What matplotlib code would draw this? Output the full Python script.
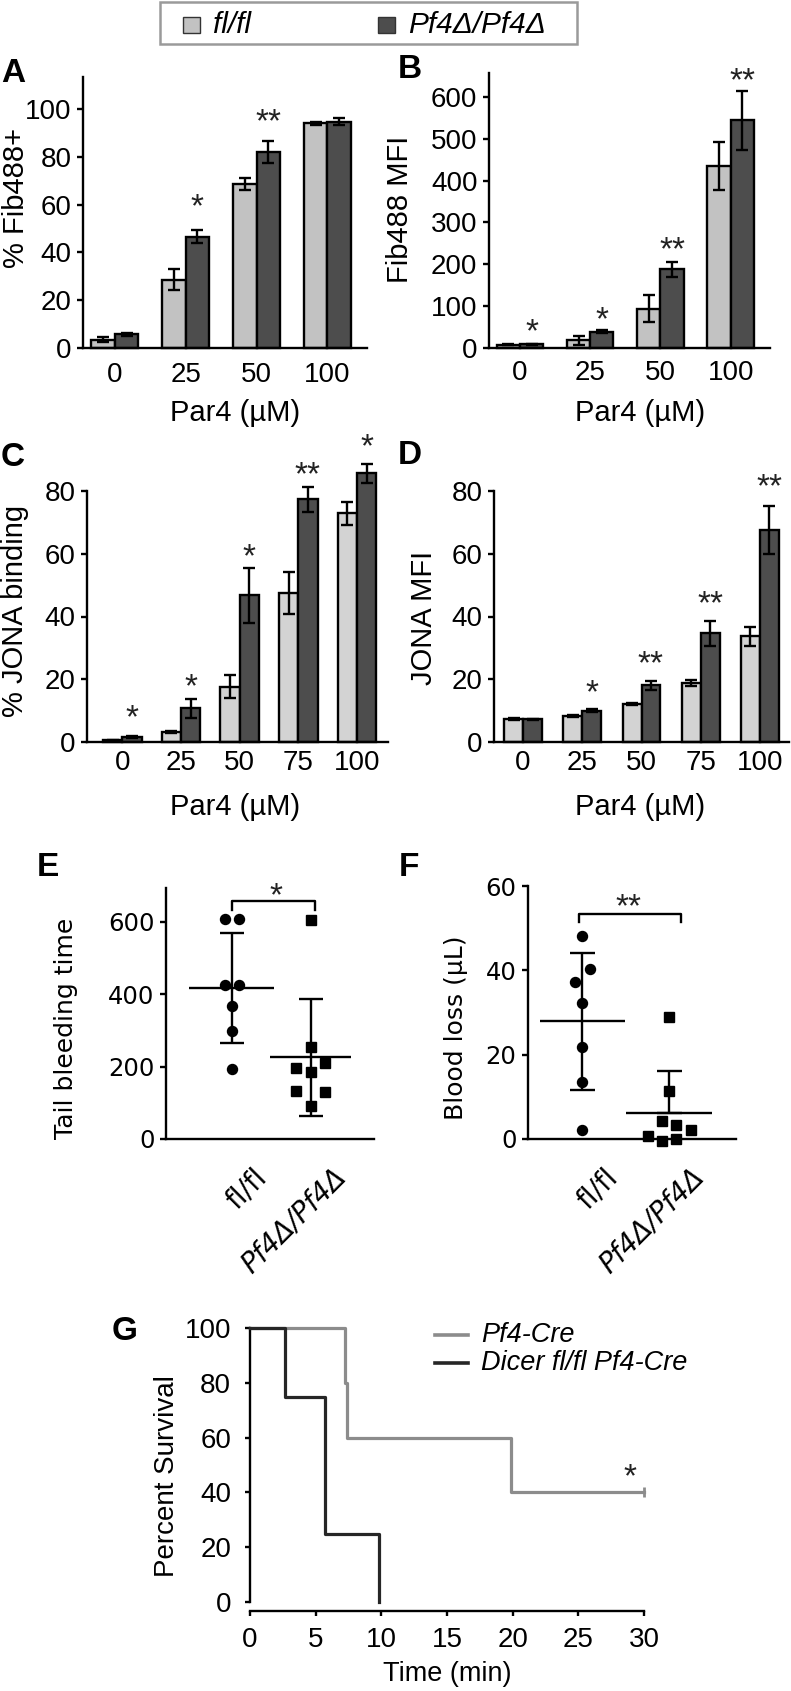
import numpy as np
import matplotlib
matplotlib.use('Agg')
import matplotlib.pyplot as plt
from matplotlib.transforms import ScaledTranslation
from matplotlib.lines import Line2D
from matplotlib.patches import Rectangle

plt.rcParams['font.family'] = ['Liberation Sans', 'DejaVu Sans']

# ---------------- data ----------------
conc_ab = ['0', '25', '50', '100']
conc_cd = ['0', '25', '50', '75', '100']

fib_pct_fl = [3.5, 28.6, 68.6, 94.0]
fib_pct_fl_err = [1.0, 4.4, 2.5, 0.5]
fib_pct_ko = [5.7, 46.5, 82.1, 94.7]
fib_pct_ko_err = [0.7, 2.7, 4.6, 1.5]
fib_pct_stars = ['', '*', '**', '']
fib_pct_star_y = [0, 63.3, 98.9, 0]

fib_mfi_fl = [8, 18, 94, 435]
fib_mfi_fl_err = [1, 10, 32, 57]
fib_mfi_ko = [9, 39, 188, 544]
fib_mfi_ko_err = [1, 3, 18, 71]
fib_mfi_stars = ['*', '*', '**', '**']
fib_mfi_star_y = [62, 92, 258, 662]

jona_pct_fl = [0.5, 3.1, 17.6, 47.4, 72.9]
jona_pct_fl_err = [0.2, 0.3, 3.7, 6.7, 3.7]
jona_pct_ko = [1.5, 10.7, 46.7, 77.4, 85.7]
jona_pct_ko_err = [0.3, 2.9, 8.9, 4.0, 3.0]
jona_pct_stars = ['*', '*', '*', '**', '*']
jona_pct_star_y = [10.7, 20.8, 62.3, 88.3, 97.3]

jona_mfi_fl = [7.2, 8.3, 12.0, 18.9, 33.7]
jona_mfi_fl_err = [0.3, 0.3, 0.3, 1.0, 3.0]
jona_mfi_ko = [7.2, 10.0, 18.1, 34.6, 67.5]
jona_mfi_ko_err = [0.2, 0.4, 1.5, 3.9, 7.7]
jona_mfi_stars = ['', '*', '**', '**', '**']
jona_mfi_star_y = [0, 18.9, 28.2, 47.3, 84.5]

groups = ['fl/fl', 'Pf4Δ/Pf4Δ']
bleed_fl = [608, 608, 427, 427, 367, 298, 194]
bleed_ko = [606, 254, 196, 210, 185, 134, 129, 90]
loss_fl = [48.2, 40.3, 37.3, 32.2, 21.9, 13.4, 2.2]
loss_ko = [28.9, 11.3, 4.2, 3.4, 2.2, 0.6, -0.5, 0.0]

# horizontal scatter offsets (layout only)
bleed_fl_jit = [-0.09, 0.09, -0.09, 0.09, 0, 0, 0]
bleed_ko_jit = [0, 0, -0.18, 0.18, 0, -0.18, 0.18, 0]
loss_fl_jit = [0, 0.085, -0.09, 0, 0, 0, 0]
loss_ko_jit = [0, 0, -0.08, 0.085, 0.26, -0.24, -0.08, 0.085]

surv_ctrl_t = [0, 7.2, 7.4, 19.9, 30]
surv_ctrl_s = [100, 80, 60, 40, 40]
surv_dicer_t = [0, 2.7, 5.7, 9.85]
surv_dicer_s = [100, 75, 25, 0]
surv_labels = ['Pf4-Cre', 'Dicer fl/fl Pf4-Cre']

# ---------------- figure ----------------
W, H = 791, 1691
fig = plt.figure(figsize=(W / 100, H / 100), dpi=100)

LIGHT_AB = '#c2c2c2'
LIGHT_CD = '#d3d3d3'
DARK = '#4d4d4d'
LW = 1.7
STAR_FS = 24
LETTER_FS = 24


def fx(x):
    return x / W


def fy(y):
    return 1 - y / H


def add_ax(l, t, r, b):
    return fig.add_axes([l / W, 1 - b / H, (r - l) / W, (b - t) / H])


def style_ax(ax):
    for s in ['top', 'right']:
        ax.spines[s].set_visible(False)
    for s in ['left', 'bottom']:
        ax.spines[s].set_linewidth(LW)


def star(ax, x, y, s, fs=STAR_FS):
    tr = ax.transData + ScaledTranslation(0, -0.58 * fs / 72, fig.dpi_scale_trans)
    ax.text(x, y, s, transform=tr, ha='center', va='baseline', fontsize=fs,
            color='#222222', clip_on=False)


def bar_panel(box, cats, fl, fle, ko, koe, stars, star_y, width, ylim, yticks,
              xlim, light, letter, letter_xy, ylabel, ylabel_xy, xlabel_xy, xpad):
    ax = add_ax(*box)
    x = np.arange(len(cats))
    ax.bar(x - width / 2, fl, width, color=light, edgecolor='black', linewidth=LW, zorder=2)
    ax.bar(x + width / 2, ko, width, color=DARK, edgecolor='black', linewidth=LW, zorder=2)
    ax.errorbar(x - width / 2, fl, yerr=fle, fmt='none', ecolor='black',
                elinewidth=LW, capsize=4.5, capthick=LW, zorder=3)
    ax.errorbar(x + width / 2, ko, yerr=koe, fmt='none', ecolor='black',
                elinewidth=LW, capsize=4.5, capthick=LW, zorder=3)
    for art in list(ax.patches) + list(ax.lines) + list(ax.collections):
        art.set_clip_on(False)
    for xi, s, sy in zip(x, stars, star_y):
        if s:
            star(ax, xi + width / 2, sy, s)
    ax.set_xlim(*xlim)
    ax.set_ylim(0, ylim)
    ax.set_yticks(yticks)
    ax.set_xticks(x)
    ax.set_xticklabels(cats)
    style_ax(ax)
    ax.tick_params(axis='y', length=4.3, width=LW, pad=4, labelsize=20)
    ax.tick_params(axis='x', length=0, pad=xpad, labelsize=20)
    fig.text(fx(letter_xy[0]), fy(letter_xy[1]), letter, fontsize=LETTER_FS, fontweight='bold',
             ha='center', va='center')
    fig.text(fx(ylabel_xy[0]), fy(ylabel_xy[1]), ylabel, fontsize=21, rotation=90,
             ha='center', va='center')
    fig.text(fx(xlabel_xy[0]), fy(xlabel_xy[1]), 'Par4 (µM)', fontsize=21,
             ha='center', va='center')
    return ax


bar_panel((83, 77, 367, 348), conc_ab, fib_pct_fl, fib_pct_fl_err, fib_pct_ko, fib_pct_ko_err,
          fib_pct_stars, fib_pct_star_y, 0.33, 113.4, [0, 20, 40, 60, 80, 100], (-0.45, 3.56),
          LIGHT_AB, 'A', (13, 73), '% Fib488+', (16, 198), (235, 413), 10)
bar_panel((489, 73, 770, 348), conc_ab, fib_mfi_fl, fib_mfi_fl_err, fib_mfi_ko, fib_mfi_ko_err,
          fib_mfi_stars, fib_mfi_star_y, 0.33, 657, [0, 100, 200, 300, 400, 500, 600], (-0.44, 3.56),
          LIGHT_AB, 'B', (410, 70), 'Fib488 MFI', (400, 209), (640, 413), 9)
bar_panel((87, 491, 388, 742), conc_cd, jona_pct_fl, jona_pct_fl_err, jona_pct_ko, jona_pct_ko_err,
          jona_pct_stars, jona_pct_star_y, 0.33, 80, [0, 20, 40, 60, 80], (-0.6, 4.53),
          LIGHT_CD, 'C', (13, 458), '% JONA binding', (15, 611), (235, 807), 6)
bar_panel((494, 491, 789, 742), conc_cd, jona_mfi_fl, jona_mfi_fl_err, jona_mfi_ko, jona_mfi_ko_err,
          jona_mfi_stars, jona_mfi_star_y, 0.32, 80, [0, 20, 40, 60, 80], (-0.49, 4.49),
          LIGHT_CD, 'D', (410, 455), 'JONA MFI', (424, 618), (640, 807), 6)

# ---------------- top legend ----------------
fig.add_artist(Rectangle((fx(160), fy(44)), fx(577) - fx(160), fy(2) - fy(44),
                         transform=fig.transFigure, facecolor='white', edgecolor='#9a9a9a',
                         linewidth=1.8))
for (x0, col, lab, tx) in [(183, LIGHT_AB, 'fl/fl', 213), (378, DARK, 'Pf4Δ/Pf4Δ', 408)]:
    fig.add_artist(Rectangle((fx(x0), fy(33)), fx(17), 16 / H, transform=fig.transFigure,
                             facecolor=col, edgecolor='#333333', linewidth=1.0))
    fig.text(fx(tx), fy(25), lab, fontsize=21.5, style='italic', ha='left', va='center')

# ---------------- E / F scatter panels ----------------
DJ = ['DejaVu Sans']


def scatter_panel(box, fl, fl_jit, ko, ko_jit, ylim, yticks, xlim, hw, capsize,
                  ko_lower, bracket, bracket_y, star_s, star_xy, letter, letter_xy,
                  ylabel, ylabel_xy):
    ax = add_ax(*box)
    ax.plot(1 + np.array(fl_jit), fl, 'o', ms=7.2, color='black', clip_on=False, zorder=3)
    ax.plot(2 + np.array(ko_jit), ko, 's', ms=6.5, color='black', clip_on=False, zorder=3)
    for xc, vals, h, lower in [(1, fl, hw[0], True), (2, ko, hw[1], ko_lower)]:
        m = np.mean(vals)
        s = np.std(vals, ddof=1)
        ax.hlines(m, xc - h, xc + h, color='black', lw=LW, zorder=2)
        yerr = [[s if lower else 0], [s]]
        ax.errorbar([xc], [m], yerr=yerr, fmt='none', ecolor='black', elinewidth=LW,
                    capsize=capsize, capthick=LW, zorder=2)
    bx0, bx1 = bracket
    ytop, ylow = bracket_y
    ax.plot([bx0, bx0, bx1, bx1], [ylow, ytop, ytop, ylow], color='black', lw=LW, clip_on=False)
    star(ax, star_xy[0], star_xy[1], star_s)
    ax.set_xlim(*xlim)
    ax.set_ylim(*ylim)
    ax.set_yticks(yticks)
    ax.set_xticks([])
    style_ax(ax)
    ax.tick_params(axis='y', length=4.3, width=LW, pad=4, labelsize=17.5)
    for lbl in ax.get_yticklabels():
        lbl.set_family(DJ)
    off = ScaledTranslation(0.21, -0.24, fig.dpi_scale_trans)
    for xc, g, st in [(1, groups[0], 'normal'), (2, groups[1], 'italic')]:
        ax.text(xc, 0, g, transform=ax.get_xaxis_transform() + off, rotation=45,
                ha='right', va='top', rotation_mode='anchor', fontsize=20,
                style=st, family=DJ)
    fig.text(fx(letter_xy[0]), fy(letter_xy[1]), letter, fontsize=LETTER_FS, fontweight='bold',
             ha='center', va='center')
    fig.text(fx(ylabel_xy[0]), fy(ylabel_xy[1]), ylabel, fontsize=18, rotation=90,
             ha='center', va='center', family=DJ)
    return ax


scatter_panel((166, 888, 374, 1139), bleed_fl, bleed_fl_jit, bleed_ko, bleed_ko_jit,
              (0, 694), [0, 200, 400, 600], (0.17, 2.80), (0.54, 0.51), 8.6, True,
              (1.0, 2.06), (657, 634), '*', (1.56, 700), 'E', (48, 868),
              'Tail bleeding time', (66, 1028))
scatter_panel((528, 886, 736, 1139), loss_fl, loss_fl_jit, loss_ko, loss_ko_jit,
              (0, 60), [0, 20, 40, 60], (0.37, 2.78), (0.49, 0.5), 9, False,
              (0.96, 2.14), (53.4, 51.5), '**', (1.54, 57.5), 'F', (409, 868),
              'Blood loss (μL)', (456, 1028))

# ---------------- G survival ----------------
axg = add_ax(250, 1328, 644, 1602)
GRAY = '#8c8c8c'
BLACK = '#262626'
axg.step(surv_ctrl_t, surv_ctrl_s, where='post', color=GRAY, lw=2.3, clip_on=False, zorder=2)
axg.step(surv_dicer_t, surv_dicer_s, where='post', color=BLACK, lw=2.3, clip_on=False, zorder=3)
axg.plot([surv_ctrl_t[-1]], [surv_ctrl_s[-1]], marker='|', ms=7, mew=2, color=GRAY, clip_on=False)
axg.set_xlim(0, 30)
axg.set_ylim(0, 100)
axg.set_xticks([0, 5, 10, 15, 20, 25, 30])
axg.set_yticks([0, 20, 40, 60, 80, 100])
style_ax(axg)
axg.spines['bottom'].set_position(('outward', 6.5))
axg.spines['bottom'].set_bounds(0, 30)
axg.spines['left'].set_bounds(0, 100)
axg.tick_params(axis='y', length=3.6, width=LW, pad=10, labelsize=20)
axg.tick_params(axis='x', length=3.6, width=LW, pad=8, labelsize=20)
star(axg, 28.9, 49.4, '*')
fig.text(fx(125), fy(1331), 'G', fontsize=LETTER_FS, fontweight='bold', ha='center', va='center')
fig.text(fx(167), fy(1476), 'Percent Survival', fontsize=20, rotation=90, ha='center', va='center')
fig.text(fx(447), fy(1674), 'Time (min)', fontsize=19.5, ha='center', va='center')
for lab, col, ypx in [(surv_labels[0], GRAY, 1335), (surv_labels[1], BLACK, 1363)]:
    fig.add_artist(Line2D([fx(435), fx(468)], [fy(ypx), fy(ypx)], color=col, lw=2.6,
                          transform=fig.transFigure))
    fig.text(fx(481), fy(ypx), lab, fontsize=19.5, style='italic', ha='left', va='center')

fig.savefig('out.png', dpi=100, facecolor='white')
